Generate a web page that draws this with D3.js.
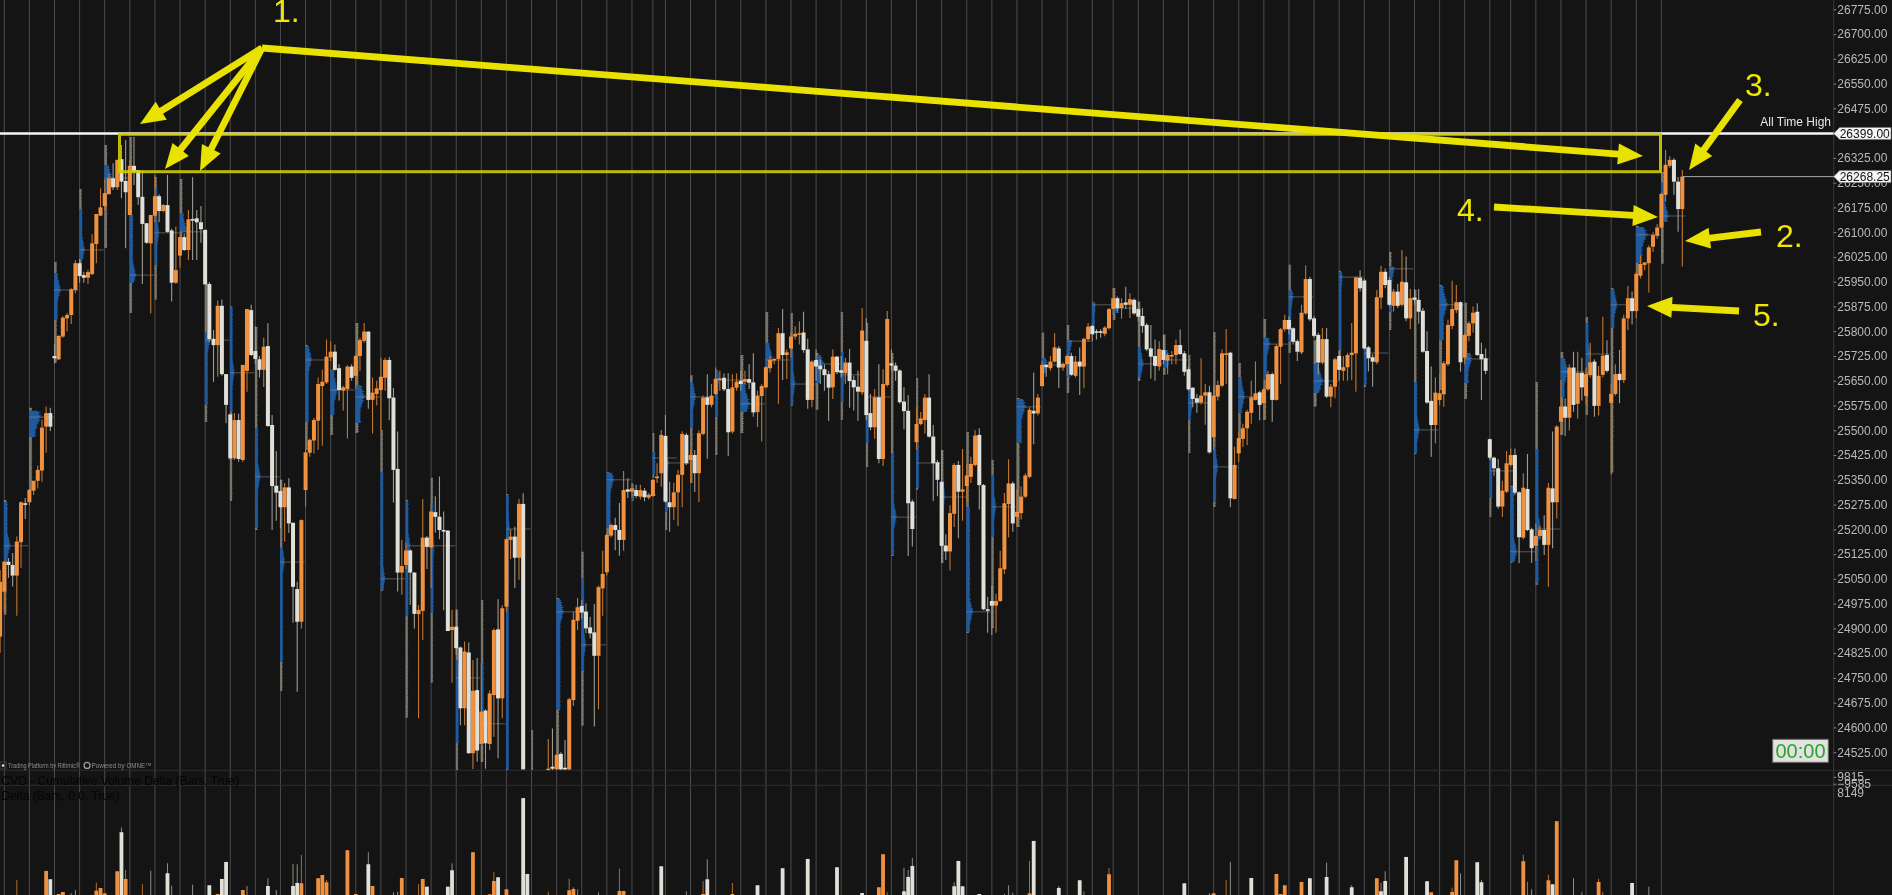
<!DOCTYPE html>
<html><head><meta charset="utf-8">
<script src="https://cdn.jsdelivr.net/npm/d3@7/dist/d3.min.js"></script>
<style>html,body{margin:0;padding:0;background:#141414;overflow:hidden}svg{display:block;font-family:"Liberation Sans",Arial,sans-serif;filter:blur(.35px)}</style>
</head><body><svg id="c" width="1892" height="895"></svg>
<script>
// OHLC rows [open, high, low, close]; null = bar lies below the visible price range
const barsA=[[24875,25077,24826,25041],[25011,25105,24950,25102],[25102,25113,25053,25092],[25092,25128,25027,25060],[25060,25178,24938,25163],[25161,25284,25084,25282],[25279,25295,25231,25274],[25282,25320,25273,25320],[25317,25347,25304,25347],[25347,25393,25324,25380],[25378,25533,25344,25508],[25511,25572,25432,25552],[25552,25568,25498,25511],
[25725,25763,25703,25718],[25715,25787,25713,25786],[25784,25845,25780,25841],[25839,25855,25799,25849],[25849,25930,25822,25927],[25925,26015,25915,26006],[26006,26019,25947,25967],[25970,25980,25947,25962],[25962,25986,25943,25979],[25973,26094,25970,26066],[26064,26155,26006,26155],[26150,26233,26150,26175],[26179,26260,26167,26218],[26215,26278,26215,26263],[26263,26309,26228,26236],[26236,26319,26228,26319],[26321,26364,26203,26253],[26255,26379,26051,26221],[26152,26319,26152,26301],[26301,26389,26243,26283],[26288,26288,26182,26206],[26207,26288,25943,26125],[26127,26128,26065,26068],[26066,26152,25854,26152],[26150,26273,26130,26209],[26209,26215,26130,26164],[26164,26185,26160,26182],[26182,26273,26098,26101],[26105,26110,25890,25947],[25947,26117,25943,25985],[26029,26088,25993,26085],[26085,26097,26043,26046],[26046,26167,26016,26139],[26140,26266,26016,26135],[26142,26167,26016,26130],[26130,26179,26068,26109],[26107,26107,25942,25942]];
const barsB=[[25943,25949,25767,25776],[25777,25804,25647,25758],[25758,25893,25662,25877],[25877,25895,25665,25670],[25670,25670,25521,25577],[25548,25548,25410,25415],[25415,25552,25410,25531],[25531,25550,25405,25413],[25410,25698,25405,25698],[25680,25867,25617,25867],[25864,25880,25725,25728],[25740,25814,25700,25716],[25715,25725,25660,25683],[25683,25780,25631,25753],[25755,25824,25510,25513],[25516,25546,25198,25331],[25332,25437,25226,25311],[25316,25350,25204,25267],[25267,25340,25163,25327],[25327,25355,25189,25218],[25220,25220,24917,25026],[25019,25041,24708,24920],[24920,25230,24900,25228],
[25319,25440,25269,25433],[25432,25475,25420,25471],[25469,25537,25430,25531],[25529,25660,25440,25640],[25634,25683,25453,25647],[25645,25775,25640,25723],[25721,25770,25710,25738],[25738,25760,25680,25683],[25688,25700,25590,25622],[25620,25635,25560,25630],[25625,25697,25475,25693],[25693,25700,25650,25659],[25665,25730,25625,25725],[25725,25780,25680,25773],[25771,25825,25765,25799],[25799,25799,25565,25592],[25592,25660,25490,25614],[25610,25650,25575,25627],[25622,25720,25500,25662],[25659,25720,25620,25713],[25713,25722,25530,25597],[25599,25628,25281,25380],[25383,25496,25012,25069],[25069,25168,25002,25089],[25092,25160,25080,25136],[25136,25140,24971,25069],[25069,25070,24900,24944]];
const barsC=[[24943,24971,24628,24956],[24953,25292,24865,25175],[25175,25180,25080,25147],[25145,25280,25022,25254],[25252,25300,25190,25238],[25238,25360,25170,25198],[25198,25254,24955,25195],[25196,25198,24892,24892],[24895,24956,24735,24905],[24905,24958,24820,24840],[24842,24845,24607,24658],[24658,24860,24607,24830],[24827,24857,24520,24522],[24522,24804,24474,24711],[24713,24810,24496,24530],[24550,24795,24496,24648],[24651,24655,24475,24552],[24550,24713,24532,24703],[24698,24900,24572,24895],[24897,24988,24507,24688],[24688,24970,24628,24961],[24966,25175,24950,25170],[25168,25200,25110,25178],[25178,25208,25022,25114],[25114,25292,25047,25277],[25277,25309,24473,24473],null,null,null,null,null,
[24470,24565,24465,24475],[24481,24597,24470,24475],[24473,24520,24470,24517],[24520,24525,24470,24473],[24478,24562,24470,24473],[24473,24690,24470,24685],[24683,24950,24665,24926],[24923,24992,24895,24964],[24968,24985,24930,24948],[24951,24975,24885,24900],[24903,24935,24870,24885],[24888,24974,24603,24817],[24817,25030,24655,25025],[25021,25135,24938,25065],[25070,25190,25060,25183],[25181,25218,25175,25213],[25213,25235,25137,25198],[25198,25280,25120,25168],[25168,25377,25135,25319]];
const barsD=[[25321,25355,25295,25314],[25314,25340,25296,25324],[25319,25335,25295,25301],[25299,25335,25290,25319],[25317,25325,25285,25297],[25296,25310,25290,25304],[25301,25352,25298,25350],[25355,25400,25340,25360],[25370,25501,25329,25486],[25483,25546,25280,25284],[25282,25344,25193,25267],[25267,25341,25228,25312],[25312,25380,25210,25365],[25365,25497,25267,25489],[25486,25492,25395,25400],[25410,25440,25340,25425],[25425,25440,25313,25370],[25370,25500,25283,25491],[25489,25605,25485,25599],[25600,25670,25414,25577],[25577,25640,25570,25605],[25610,25690,25605,25656],[25652,25680,25620,25657],[25659,25672,25618,25624],[25625,25673,25422,25494],[25496,25670,25490,25630],[25629,25672,25620,25647],[25650,25680,25620,25640],[25647,25680,25640,25655],[25655,25700,25625,25644],[25645,25733,25541,25554],[25555,25620,25510,25605],[25604,25640,25466,25634],[25630,25695,25627,25691],[25688,25725,25675,25713],[25713,25720,25700,25716],[25716,25810,25580,25794],[25794,25867,25652,25728],[25728,25745,25655,25736],[25748,25795,25720,25784],[25784,25815,25775,25792],[25790,25830,25760,25794],[25796,25859,25735,25743],[25745,25777,25565,25592],[25592,25712,25570,25708],[25713,25745,25650,25693],[25696,25715,25640,25685],[25685,25700,25620,25667],[25670,25680,25528,25629],[25630,25745,25595,25723]];
const barsE=[[25723,25725,25670,25676],[25682,25725,25660,25674],[25673,25720,25640,25705],[25705,25746,25568,25649],[25652,25665,25560,25630],[25632,25680,25529,25617],[25615,25870,25607,25802],[25771,25840,25530,25546],[25552,25610,25500,25509],[25509,25625,25474,25600],[25600,25700,25400,25413],[25413,25685,25392,25640],[25637,25861,25632,25837],[25703,25745,25680,25696],[25696,25705,25650,25680],[25681,25685,25580,25585],[25587,25630,25503,25558],[25559,25607,25119,25279],[25284,25290,25148,25201],[25464,25570,25440,25519],[25519,25555,25515,25536],[25531,25610,25490,25599],[25599,25670,25478,25481],[25481,25516,25286,25400],[25403,25410,25300,25350],[25344,25440,25098,25150],[25151,25185,25107,25133],[25133,25273,25075,25249],[25247,25400,25207,25395],[25395,25407,25173,25314],[25314,25443,25226,25321],[25331,25400,25284,25363],[25359,25420,25340,25398],[25395,25500,25390,25484],[25486,25506,25260,25334],[25334,25337,24955,24958],[24958,24996,24887,24954],[24983,25030,24880,24969],[24969,25005,24887,24983],[24983,25135,24980,25082],[25079,25310,25065,25279],[25277,25412,25176,25339],[25339,25345,25193,25218],[25238,25320,25208,25253],[25249,25330,25230,25299],[25299,25370,25295,25363],[25359,25570,25355,25562],[25559,25675,25458,25551],[25551,25610,25545,25599]];
const barsF=[[25634,25710,25632,25698],[25698,25700,25662,25691],[25688,25725,25680,25708],[25708,25794,25705,25751],[25748,25755,25628,25690],[25690,25705,25680,25701],[25700,25730,25664,25725],[25725,25735,25665,25668],[25665,25725,25660,25708],[25708,25751,25607,25693],[25693,25780,25627,25777],[25776,25825,25770,25814],[25816,25820,25770,25791],[25800,25806,25775,25797],[25800,25806,25780,25797],[25792,25815,25785,25811],[25809,25870,25805,25867],[25867,25930,25850,25900],[25900,25905,25860,25870],[25870,25900,25838,25885],[25887,25935,25867,25880],[25880,25915,25840,25897],[25895,25900,25850,25854],[25867,25890,25830,25844],[25846,25870,25795,25816],[25819,25825,25740,25745],[25748,25819,25657,25723],[25725,25775,25650,25695],[25693,25770,25680,25746],[25743,25790,25700,25713],[25711,25735,25670,25728],[25725,25740,25700,25728],[25728,25775,25700,25758],[25758,25805,25728,25731],[25733,25740,25665,25677],[25685,25695,25620,25624],[25629,25630,25570,25595],[25597,25610,25553,25584],[25584,25718,25578,25605],[25605,25640,25517,25615],[25615,25635,25430,25433],[25479,25635,25440,25605],[25602,25650,25590,25637],[25635,25745,25630,25733],[25730,25807,25640,25733],[25735,25738,25267,25294],[25292,25450,25290,25395],[25430,25495,25405,25476],[25474,25520,25449,25506],[25506,25562,25455,25556]];
const barsG=[[25553,25650,25520,25600],[25592,25708,25590,25612],[25615,25620,25530,25577],[25582,25630,25531,25624],[25624,25680,25620,25670],[25670,25675,25526,25592],[25592,25760,25590,25755],[25753,25810,25640,25806],[25806,25850,25800,25834],[25834,25845,25790,25806],[25809,25812,25760,25768],[25770,25775,25710,25738],[25736,25880,25730,25856],[25854,26000,25850,25958],[25958,25965,25830,25836],[25839,25845,25780,25786],[25789,25795,25670,25705],[25705,25810,25700,25776],[25776,25810,25598,25602],[25602,25640,25570,25632],[25632,25720,25597,25715],[25725,25740,25650,25683],[25680,25725,25650,25691],[25691,25735,25650,25728],[25728,25825,25652,25735],[25733,25965,25617,25963],[25962,25985,25920,25930],[25953,25960,25745,25748],[25751,25755,25678,25718],[25721,25730,25632,25708],[25706,25925,25700,25903],[25902,25998,25867,25980],[25980,25990,25930,25940],[25955,25965,25875,25880],[25877,25928,25860,25920],[25920,25943,25870,25877],[25880,26046,25875,25950],[25948,26026,25830,25839],[25839,25928,25807,25900],[25902,25928,25880,25895],[25895,25928,25823,25859],[25862,25870,25735,25738],[25740,25800,25580,25584],[25589,25693,25420,25516],[25516,25660,25461,25614],[25592,25670,25575,25612],[25609,25710,25571,25703],[25700,25835,25695,25819],[25816,25953,25806,25867],[25864,25940,25855,25888],[25888,25890,25677,25706],[25720,25795,25700,25789],[25786,25830,25770,25824],[25824,25875,25796,25856],[25859,25885,25725,25728],[25731,25765,25592,25715],[25718,25748,25670,25680]];
const barsH=[[25473,25475,25410,25417],[25417,25420,25362,25385],[25385,25413,25262,25269],[25269,25347,25237,25317],[25314,25437,25310,25400],[25395,25445,25390,25425],[25425,25445,25305,25311],[25312,25315,25097,25176],[25175,25370,25170,25326],[25322,25428,25195,25198],[25200,25205,25099,25143],[25150,25218,25104,25180],[25180,25210,25170,25198],[25198,25243,25122,25153],[25153,25340,25026,25326],[25324,25496,25143,25282],[25282,25515,25233,25511],[25526,25652,25486,25572],[25572,25597,25483,25538],[25538,25700,25499,25690],[25690,25738,25556,25577],[25580,25738,25536,25674],[25674,25720,25590,25630],[25604,25690,25577,25670],[25667,25765,25660,25706],[25708,25715,25541,25574],[25574,25695,25545,25665],[25668,25844,25660,25726],[25728,25773,25675,25680],[25583,25640,25365,25610],[25610,25700,25605,25670],[25671,25743,25582,25652],[25652,25850,25643,25839],[25839,25937,25804,25900],[25900,25920,25820,25861],[25861,25980,25839,25974],[25968,26030,25960,26004],[26001,26010,25985,26008],[26006,26060,25917,26054],[26056,26100,26040,26091],[26089,26125,26080,26114],[26114,26220,26112,26216],[26213,26349,26192,26304],[26301,26330,26295,26319],[26319,26325,26213,26253],[26253,26267,26101,26170],[26170,26288,25996,26268.25]];

// Bar numbers that carry a vertical session line
const sessionBars=[1,7,13,19,25,31,37,43,49,55,61,67,73,79,85,91,97,103,109,115,121,127,133,139,145,151,156,159,165,171,177,183,189,195,201,207,213,219,225,231,237,243,249,255,261,266,272,278,284,290,296,302,308,314,320,326,332,338,344,350,356,361,367,373,379,385,391,397];

// Volume profiles [bar, high, valueAreaHigh, valueAreaLow, low, pointOfControl, peakVolume]
const profiles=[[1,25289,25283,25101,24941,25150,7],[7,25568,25559,25480,25319,25540,13],[13,26010,25976,25834,25704,25925,7],[19,26231,26170,26016,25970,26046,6],[25,26364,26303,26219,26052,26264,8],[31,26388,26152,25946,25855,25970,7],[37,26267,26234,26001,25895,26098,5],[43,26261,26158,26101,26076,26101,8],[49,25943,25795,25577,25525,25773,6],[55,25876,25873,25555,25286,25674,5],[61,25813,25507,25204,25198,25359,6],[67,25350,25144,24798,24710,25101,5],[73,25758,25755,25525,25440,25713,7],[79,25683,25680,25546,25486,25622,8],[85,25825,25637,25522,25492,25601,10],[91,25501,25374,25016,25013,25050,5],[97,25289,25286,24938,24629,25150,5],[103,25356,25280,24947,24735,25150,4],[109,24956,24804,24553,24471,24750,4],[115,24986,24795,24547,24495,24611,5],[121,25307,25304,24474,24471,25201,4],[127,24592,24471,24471,24471,null,2],[133,24992,24989,24653,24474,24950,8],[139,25132,25050,24771,24605,24850,5],[145,25374,25371,25204,25183,25350,8],[151,25337,25331,25289,25286,25304,2],[156,25492,25434,25365,25356,25416,2],[159,25440,25410,25253,25198,25401,4],[165,25667,25646,25507,25340,25601,6],[171,25683,25680,25540,25425,25652,4],[177,25728,25643,25555,25492,25580,10],[183,25858,25764,25689,25686,25713,8],[189,25855,25743,25577,25574,25640,5],[195,25734,25728,25643,25562,25701,8],[201,25858,25737,25586,25531,25668,4],[207,25825,25553,25462,25389,25601,4],[213,25734,25431,25122,25119,25237,6],[219,25658,25462,25325,25319,25401,3],[225,25440,25350,25153,25098,25298,4],[231,25495,25268,24889,24886,24950,7],[237,25410,25362,25177,24901,25268,5],[243,25598,25595,25462,25207,25571,10],[249,25795,25719,25674,25668,25698,6],[255,25819,25773,25661,25613,25770,6],[261,25889,25886,25795,25789,25880,4],[266,25931,25880,25855,25834,25870,7],[272,25889,25752,25661,25649,25701,6],[278,25789,25743,25689,25668,25713,7],[284,25728,25628,25531,25431,25583,5],[290,25798,25449,25283,25268,25389,5],[296,25704,25661,25553,25462,25601,7],[302,25837,25780,25652,25531,25761,7],[308,26001,25925,25768,25734,25904,5],[314,25773,25701,25613,25571,25649,10],[320,25983,25979,25743,25683,25964,4],[326,25955,25749,25637,25631,25734,3],[332,26040,25995,25858,25804,25989,6],[338,25925,25646,25431,25428,25501,6],[344,25940,25937,25773,25622,25880,9],[350,25886,25734,25643,25595,25716,8],[356,25416,25413,25295,25237,25377,3],[361,25331,25328,25101,25098,25132,7],[367,25646,25443,25038,25032,25201,6],[373,25737,25719,25601,25486,25677,8],[379,25843,25825,25677,25546,25731,5],[385,25931,25928,25810,25371,25880,7],[391,26119,26116,26007,25970,26092,12],[397,26282,26252,26131,26004,26149,8]];
// Relative jaggedness of the profile edge
const profileEdge=[.9,1,.84,.96,.8,1.04,.88,.82,.98,.86,1.06,.8,.94,.86,1,.82,.95,.9,.8,.99];

// Delta rows [bar, body, wick]; positive = buyers (orange), negative = sellers (white)
const deltaBarsA=[[4,0,1200],[11,1920,1920],[12,-1256,-1256],[14,80,80],[15,240,240],[17,0,160],[18,0,-400],[23,344,984],[24,560,560],[25,136,136],[28,1896,1896],[29,-5016,-5384],[30,1280,2000],[34,0,880],[36,0,-1944],[40,-1736,-2536],[41,0,-744],[46,0,-824],[50,-776,-776],[52,80,80],[53,-1280,-1280],[54,-2640,-2640],[58,400,400],[59,0,-720],[64,-720,-1336],[66,0,-400],[70,-720,-2480],[71,-960,-2456],[72,936,3200],[76,1336,1336],[77,1600,1600],[78,1016,1200],[83,3576,3576],[85,80,80],[88,-2456,-3416],[89,720,720],[94,0,-216],[95,0,-264]];
const deltaBarsB=[[96,1360,1360],[100,0,880],[101,1280,1280],[102,-664,-664],[107,-664,-664],[108,-1976,-2536],[113,3416,3416],[117,56,56],[118,1120,1840],[119,-1416,-1416],[121,456,456],[125,-7736,-7736],[126,-1680,-1680],[131,0,264],[136,376,1304],[137,480,616],[138,0,456],[143,0,-216],[148,320,2104],[149,320,320],[158,-2296,-2296],[164,0,-296],[168,80,1120],[169,-1256,-2856],[175,80,960],[181,-776,-776],[187,-2136,-2136],[193,-2880,-2880],[200,-2216,-2216],[206,-160,-160],[210,616,616],[211,3256,3256],[212,0,216],[216,-296,-2184],[217,-1440,-2000],[218,-2320,-2960],[228,-696,-1016],[229,-2720,-2720],[230,-696,-696],[234,-80,-80],[240,0,-80],[241,0,-776],[242,0,-184],[246,136,2720],[247,-4320,-4320]];
const deltaBarsC=[[253,-560,-720],[258,-1176,-1176],[259,0,296],[265,1656,2160],[283,-936,-936],[289,0,-136],[290,136,136],[293,0,1200],[294,0,-2640],[299,-1360,-1360],[305,1680,1680],[306,80,80],[307,776,776],[311,1040,1040],[313,-1336,-1336],[317,-1440,-2584],[323,-616,-800],[329,1336,1336],[330,-296,-984],[331,-1120,-1896],[336,-3040,-3040],[341,-1096,-1096],[342,216,216],[347,240,584],[348,2776,2776],[349,0,-1736],[353,-2616,-2616],[354,-1016,-1200],[364,2696,3224],[365,0,1064],[366,0,-456],[370,1176,1624],[371,-856,-856],[372,5896,5896],[376,0,-1336],[378,0,264],[382,1040,1304],[383,0,264],[390,-960,-960],[394,0,-664]];

// Axis
const priceTicks=d3.range(26775,24524,-75);
const cvdTicks=[9815,-9585];
const deltaTick=8149;
const allTimeHigh=26399;
const lastPrice=26268.25;
const timerText="00:00";
const legendLines=["CVD - Cumulative Volume Delta (Bars, True)","Delta (Bars, 0,0, True)"];
const footerText="Trading Platform by Rithmic\u00AE";
const footerText2="Powered by OMNE\u2122";
const calloutLabels=[["1.",273,22],["2.",1776,247],["3.",1745,96],["4.",1457,221],["5.",1753,326]];
const arrowPaths=[[262,48,140,124],[262,48,165,169],[262,48,200,171],[262,48,1643,156],[1740,100,1689,170],[1761,232,1685,241],[1494,207,1658,217],[1739,311,1647,306]];

const bars=[...barsA,...barsB,...barsC,...barsD,...barsE,...barsF,...barsG,...barsH];
const deltaBars=[...deltaBarsA,...deltaBarsB,...deltaBarsC];

const COL={bg:"#141414",up:"#f0913f",dn:"#e0dfd8",upW:"#c2762f",dnW:"#9c9b95",grid:"#4b4b4d",sep:"#2d2d30",blue:"#1f5a9e",grey:"#79766c",text:"#b9b9b9",yellow:"#e9e200"};
const svg=d3.select("#c");
const W=1892,H=895,axisX=1833.7,panelB=770.3,sep2=785.3;

const x=d3.scaleLinear().domain([0,402]).range([0.1,1682.3]);
const y=d3.scaleLinear().domain([26775,24525]).range([9.3,752.2]);
const yDelta=d3.scaleLinear().domain([0,8149]).range([895,793]);
const yCvd=d3.scaleLinear().domain([9815,-9585]).range([776.8,783.7]);

svg.append("rect").attr("width",W).attr("height",H).attr("fill",COL.bg);
const defs=svg.append("defs");
defs.append("clipPath").attr("id","pp").append("rect").attr("width",axisX).attr("height",panelB);
defs.append("clipPath").attr("id","dp").append("rect").attr("y",sep2).attr("width",axisX).attr("height",H-sep2);

// session lines
svg.append("g").selectAll("line").data(sessionBars).join("line")
 .attr("x1",d=>x(d)).attr("x2",d=>x(d)).attr("y1",0).attr("y2",H)
 .attr("stroke",COL.grid).attr("stroke-width",1);
// separators and axis rule
svg.append("g").selectAll("line").data([panelB,sep2]).join("line")
 .attr("x1",0).attr("x2",W).attr("y1",d=>d).attr("y2",d=>d).attr("stroke",COL.sep);
svg.append("line").attr("x1",axisX).attr("x2",axisX).attr("y1",0).attr("y2",H).attr("stroke","#39393b");

// profiles
const pp=svg.append("g").attr("clip-path","url(#pp)");
const lvl=3;
profiles.forEach(([b,hi,vh,vl,lo,poc,vol])=>{
  const gx=x(b)-0.4;
  const pieces=[[hi,vh,COL.grey],[vh,vl,COL.blue],[vl,lo,COL.grey]];
  pieces.forEach(([from,to,col])=>{
    if(from<=to)return;
    const lv=d3.range(from,to-0.01,-lvl);
    if(lv[lv.length-1]!==to)lv.push(to);
    const isBlue=col===COL.blue;
    const a=d3.area().y(d=>y(d)).x0(gx).x1((d,i)=>{
      const k=Math.round((hi-d)/lvl)%profileEdge.length;
      const near=poc==null?0:Math.max(0,1-Math.abs(d-poc)/40);
      const base=isBlue?Math.max(3,vol*.55):Math.min(3.2,1.8+vol*.14);
      const w=isBlue?base+Math.max(0,vol-base)*near:base;
      return gx+w*profileEdge[k];
    }).curve(d3.curveStepAfter);
    pp.append("path").attr("d",a(lv)).attr("fill",col);
  });
  if(poc!=null){
    pp.append("line").attr("x1",gx).attr("x2",x(b+6)-1).attr("y1",y(poc)).attr("y2",y(poc))
      .attr("stroke","#8e8e8e").attr("stroke-opacity",.55);
  }
});

// candles
const items=bars.map((d,i)=>d&&({i,o:d[0],h:d[1],l:d[2],c:d[3]})).filter(Boolean);
const cg=svg.append("g").attr("clip-path","url(#pp)");
cg.selectAll("line.w").data(items).join("line").attr("class","w")
 .attr("x1",d=>x(d.i)).attr("x2",d=>x(d.i)).attr("y1",d=>y(d.h)).attr("y2",d=>y(d.l))
 .attr("stroke",d=>d.c>d.o?COL.upW:COL.dnW).attr("stroke-width",1.1);
cg.selectAll("rect.b").data(items).join("rect").attr("class","b")
 .attr("x",d=>x(d.i)-2).attr("width",4)
 .attr("y",d=>y(Math.max(d.o,d.c)))
 .attr("height",d=>Math.max(1.6,Math.abs(y(d.o)-y(d.c))))
 .attr("fill",d=>d.c>d.o?COL.up:COL.dn);

// delta panel
const dg=svg.append("g").attr("clip-path","url(#dp)");
dg.selectAll("line").data(deltaBars).join("line")
 .attr("x1",d=>x(d[0])).attr("x2",d=>x(d[0])).attr("y1",d=>yDelta(Math.abs(d[2]))).attr("y2",H)
 .attr("stroke",d=>d[2]>0?COL.upW:COL.dnW).attr("stroke-width",.9);
dg.selectAll("rect").data(deltaBars.filter(d=>d[1]!==0)).join("rect")
 .attr("x",d=>x(d[0])-1.9).attr("width",3.8).attr("y",d=>yDelta(Math.abs(d[1]))).attr("height",d=>H-yDelta(Math.abs(d[1])))
 .attr("fill",d=>d[1]>0?COL.up:COL.dn);

// level lines
svg.append("line").attr("x1",0).attr("x2",axisX).attr("y1",y(allTimeHigh)).attr("y2",y(allTimeHigh)).attr("stroke","#f6f6f6").attr("stroke-width",2.6);
svg.append("line").attr("x1",x(402)).attr("x2",axisX).attr("y1",y(lastPrice)).attr("y2",y(lastPrice)).attr("stroke","#a8a8a8").attr("stroke-width",1);
svg.append("text").attr("x",1831).attr("y",y(allTimeHigh)-7).attr("text-anchor","end").attr("font-size",12).attr("fill","#e6e6e6").text("All Time High");

// axes
const ax=svg.append("g").attr("transform",`translate(${axisX},0)`)
 .call(d3.axisRight(y).tickValues(priceTicks).tickSize(2.6).tickPadding(1).tickFormat(d3.format(".2f")));
ax.select(".domain").remove();
ax.selectAll("text").attr("font-size",12).attr("font-family","Liberation Sans").attr("fill",COL.text);
ax.selectAll("line").attr("stroke","#888");
const ax2=svg.append("g").attr("transform",`translate(${axisX},0)`)
 .call(d3.axisRight(yCvd).tickValues(cvdTicks).tickSize(2.6).tickPadding(1).tickFormat(d3.format("d")));
ax2.select(".domain").remove();
ax2.selectAll("text").attr("font-size",12).attr("font-family","Liberation Sans").attr("fill",COL.text);
ax2.selectAll("line").attr("stroke","#888");
svg.append("text").attr("x",axisX+3.6).attr("y",yDelta(deltaTick)).attr("dy",".32em").attr("font-size",12).attr("fill",COL.text).text(deltaTick);

// price tags
[[allTimeHigh,"26399.00"],[lastPrice,"26268.25"]].forEach(([p,t])=>{
  const yy=y(p);
  svg.append("path").attr("d",`M${axisX},${yy} L${axisX+6},${yy-6} H${W-1} V${yy+6} H${axisX+6} Z`).attr("fill","#f5f5f5").attr("stroke","#777").attr("stroke-width",.6);
  svg.append("text").attr("x",axisX+6).attr("y",yy).attr("dy",".35em").attr("font-size",12).attr("fill","#111").text(t);
});

// timer
svg.append("rect").attr("x",1772.7).attr("y",739.3).attr("width",55.6).attr("height",23).attr("fill","#e2e2e2").attr("stroke","#6a6a6a");
svg.append("text").attr("x",1800.5).attr("y",751).attr("dy",".36em").attr("text-anchor","middle").attr("font-size",20).attr("fill","#2aa52a").text(timerText);

// footer and indicator names
svg.append("circle").attr("cx",3).attr("cy",765.6).attr("r",1.3).attr("fill","#ddd");
svg.append("rect").attr("x",0).attr("y",762).attr("width",6).attr("height",7).attr("fill","none").attr("stroke","#3c3c3c");
svg.append("text").attr("x",8).attr("y",768.4).attr("font-size",7.6).attr("textLength",72).attr("lengthAdjust","spacingAndGlyphs").attr("fill","#8d8d8d").text(footerText);
svg.append("circle").attr("cx",87).attr("cy",765.4).attr("r",3).attr("fill","none").attr("stroke","#a0a0a0").attr("stroke-width",1.2);
svg.append("text").attr("x",91.5).attr("y",768.4).attr("font-size",7.6).attr("textLength",60).attr("lengthAdjust","spacingAndGlyphs").attr("fill","#8d8d8d").text(footerText2);
svg.selectAll("text.n").data(legendLines).join("text").attr("class","n")
 .attr("x",1.5).attr("y",(d,i)=>785.2+i*15).attr("font-size",12).attr("fill","#050505").text(d=>d);

// callouts
svg.append("rect").attr("x",119.5).attr("y",134.3).attr("width",1541).attr("height",37.4).attr("fill","none").attr("stroke","#d4cc00").attr("stroke-width",3).attr("opacity",.9);
const ag=svg.append("g");
arrowPaths.forEach(([x1,y1,x2,y2])=>{
  const L=Math.hypot(x2-x1,y2-y1),ux=(x2-x1)/L,uy=(y2-y1)/L,nx=-uy,ny=ux;
  const hl=25,hw=10.5,sw=3.4;
  const bx=x2-ux*hl,by=y2-uy*hl;
  const pts=[[x1+nx*sw,y1+ny*sw],[bx+nx*sw,by+ny*sw],[bx+nx*hw,by+ny*hw],[x2,y2],[bx-nx*hw,by-ny*hw],[bx-nx*sw,by-ny*sw],[x1-nx*sw,y1-ny*sw]];
  ag.append("path").attr("d",d3.line()(pts)+"Z").attr("fill",COL.yellow);
});
svg.selectAll("text.c").data(calloutLabels).join("text").attr("class","c")
 .attr("x",d=>d[1]).attr("y",d=>d[2]).attr("font-size",32).attr("fill","#efe800").text(d=>d[0]);
</script></body></html>
